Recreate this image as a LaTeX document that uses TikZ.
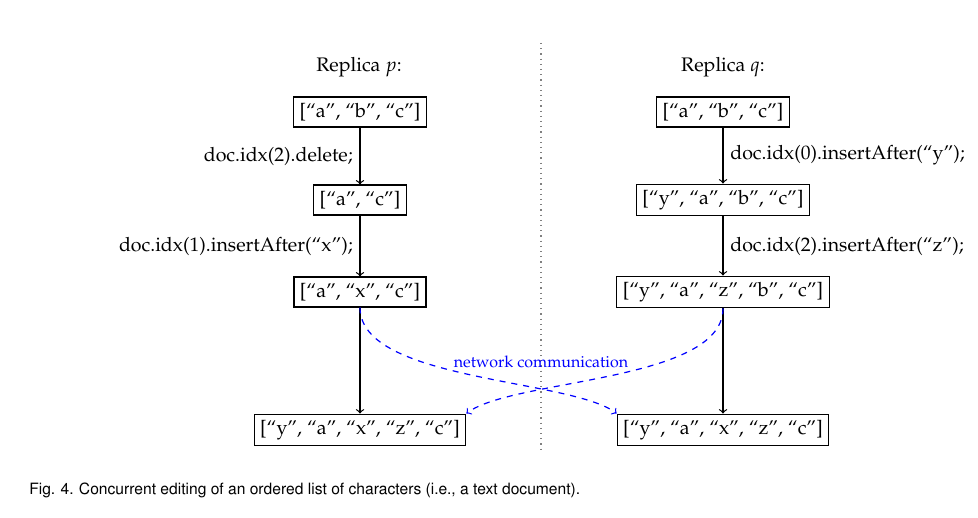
\documentclass[tikz,border=0pt]{standalone}
\usepackage[T1]{fontenc}
\usepackage{mathpazo}
\usepackage{tikz}
\tikzset{every picture/.style={line width=0.6pt}}
\tikzset{
  listbox/.style={draw, inner xsep=3pt, inner ysep=3pt, font=\fontsize{9.8}{12}\selectfont},
  optext/.style={font=\fontsize{9.8}{12}\selectfont},
  netmsg/.style={->, dashed, blue, line width=0.6pt},
}

\begin{document}
\begin{tikzpicture}[x=0.5pt,y=0.5pt,yscale=-1,xscale=1]
  %set diagram left start at 0, and has size of 978 x 518
  \useasboundingbox (0,0) rectangle (978,518);

  %Straight Lines: divider between the replicas
  \draw [gray, dotted] (541,43) -- (541,452) ;

  % Text Node
  \node [optext] (hp) at (359,67) {Replica $p$:};
  % Text Node
  \node [optext] (hq) at (723,67) {Replica $q$:};

  %Shape: Rectangle
  \node [listbox] (p1) at (360,112) {[``a'', ``b'', ``c'']};
  %Shape: Rectangle
  \node [listbox] (p2) at (360,200) {[``a'', ``c'']};
  %Shape: Rectangle
  \node [listbox] (p3) at (360,292) {[``a'', ``x'', ``c'']};
  %Shape: Rectangle
  \node [listbox] (p4) at (360,430) {[``y'', ``a'', ``x'', ``z'', ``c'']};

  %Shape: Rectangle
  \node [listbox] (q1) at (723,112) {[``a'', ``b'', ``c'']};
  %Shape: Rectangle
  \node [listbox] (q2) at (723,200) {[``y'', ``a'', ``b'', ``c'']};
  %Shape: Rectangle
  \node [listbox] (q3) at (723,292) {[``y'', ``a'', ``z'', ``b'', ``c'']};
  %Shape: Rectangle
  \node [listbox] (q4) at (723,430) {[``y'', ``a'', ``x'', ``z'', ``c'']};

  %Straight Lines
  \draw [->] (p1) -- (p2) node [optext, midway, left] {doc.idx(2).delete;} ;
  %Straight Lines
  \draw [->] (p2) -- (p3) node [optext, midway, left] {doc.idx(1).insertAfter(``x'');} ;
  %Straight Lines
  \draw [->] (p3) -- (p4) ;

  %Straight Lines
  \draw [->] (q1) -- (q2) node [optext, midway, right] {doc.idx(0).insertAfter(``y'');} ;
  %Straight Lines
  \draw [->] (q2) -- (q3) node [optext, midway, right] {doc.idx(2).insertAfter(``z'');} ;
  %Straight Lines
  \draw [->] (q3) -- (q4) ;

  %Curve Lines
  \draw [netmsg] (p3.south) .. controls +(0,74) and +(-45,-35) .. (q4.north west) ;
  %Curve Lines
  \draw [netmsg] (q3.south) .. controls +(0,74) and +(45,-35) .. (p4.north east) ;

  % Text Node
  \node [blue, font=\fontsize{8}{10}\selectfont] (net) at (541,362) {network communication};

  % Text Node
  \node [anchor=west, font=\fontfamily{phv}\fontsize{7.8}{9}\selectfont] (cap) at (22,490)
    {Fig. 4. Concurrent editing of an ordered list of characters (i.e., a text document).};
\end{tikzpicture}
\end{document}
